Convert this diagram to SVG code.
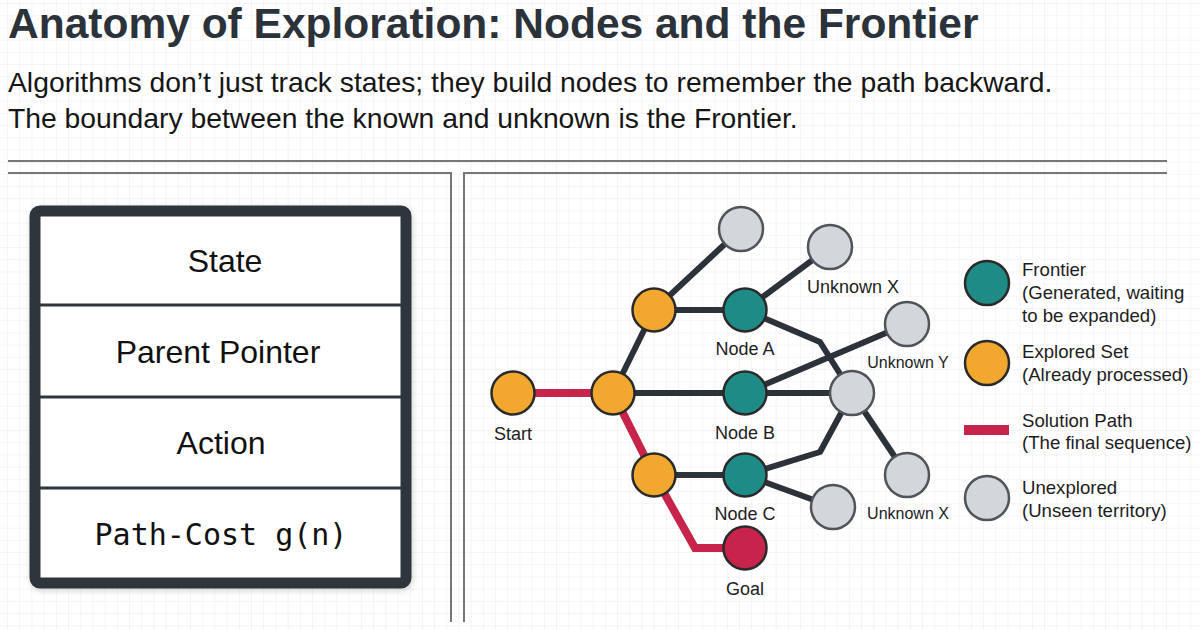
<svg xmlns="http://www.w3.org/2000/svg" width="1200" height="630" viewBox="0 0 1200 630">
  <defs>
    <pattern id="grid" x="8" y="4" width="12.2" height="12.2" patternUnits="userSpaceOnUse">
      <path d="M12.2 0V12.2M0 12.2H12.2" fill="none" stroke="#ebebeb" stroke-width="1"/>
    </pattern>
    <filter id="shadow" x="-10%" y="-10%" width="120%" height="120%">
      <feDropShadow dx="1" dy="2" stdDeviation="3" flood-color="#000" flood-opacity="0.18"/>
    </filter>
  </defs>
  <style>
    text { font-family: "Liberation Sans", Arial, sans-serif; fill: #1d1d1d; }
    .title { font-size: 42.5px; font-weight: bold; fill: #2b323a; }
    .sub { font-size: 28.3px; fill: #161616; }
    .panel { fill: none; stroke: #777777; stroke-width: 2; }
    .field { font-size: 32px; text-anchor: middle; fill: #111; }
    .mono { font-family: "DejaVu Sans Mono", "Liberation Mono", monospace; font-size: 30px; }
    .divider { stroke: #2e363d; stroke-width: 3; }
    .edge { fill: none; stroke: #2b3239; stroke-width: 6; stroke-linejoin: round; }
    .sol { fill: none; stroke: #c8234a; stroke-width: 8; stroke-linejoin: miter; }
    .explored { fill: #f2a82f; stroke: #2a2a2a; stroke-width: 2.5; }
    .frontier { fill: #1f8b86; stroke: #2a2a2a; stroke-width: 2.5; }
    .unexplored { fill: #d3d6da; stroke: #4e5458; stroke-width: 2.5; }
    .goal { fill: #c8234a; stroke: #2a2a2a; stroke-width: 2.5; }
    .lbl { font-size: 18px; text-anchor: middle; }
    .lbls { font-size: 16px; text-anchor: middle; }
    .leg { font-size: 18.6px; }
  </style>

  <rect width="1200" height="630" fill="#ffffff"/>
  <rect width="1200" height="630" fill="url(#grid)"/>

  <text class="title" x="8" y="38">Anatomy of Exploration: Nodes and the Frontier</text>
  <text class="sub" x="8" y="92">Algorithms don’t just track states; they build nodes to remember the path backward.</text>
  <text class="sub" x="8" y="128">The boundary between the known and unknown is the Frontier.</text>

  <line class="panel" x1="8" y1="161" x2="1167" y2="161"/>
  <path class="panel" d="M8 173H451V622"/>
  <path class="panel" d="M1167 173H464V622"/>

  <g id="node-struct">
    <rect x="35" y="211" width="371" height="372" rx="5" fill="#ffffff" stroke="#2e363d" stroke-width="11" filter="url(#shadow)"/>
    <line class="divider" x1="40" y1="305" x2="401" y2="305"/>
    <line class="divider" x1="40" y1="397" x2="401" y2="397"/>
    <line class="divider" x1="40" y1="488" x2="401" y2="488"/>
    <text class="field" x="225" y="272">State</text>
    <text class="field" x="218" y="363">Parent Pointer</text>
    <text class="field" x="221" y="454">Action</text>
    <text class="field mono" x="221" y="545">Path-Cost g(n)</text>
  </g>

  <g id="connectors">
    <line class="edge" x1="613" y1="393" x2="654" y2="310"/>
    <line class="edge" x1="654" y1="310" x2="741" y2="229"/>
    <line class="edge" x1="654" y1="310" x2="745" y2="310"/>
    <line class="edge" x1="745" y1="310" x2="830" y2="247"/>
    <polyline class="edge" points="745,310 820,342 852,393"/>
    <line class="edge" x1="613" y1="393" x2="852" y2="393"/>
    <line class="edge" x1="745" y1="393" x2="907" y2="324"/>
    <line class="edge" x1="654" y1="475" x2="745" y2="475"/>
    <polyline class="edge" points="745,475 820,452 852,393"/>
    <line class="edge" x1="745" y1="475" x2="833" y2="507"/>
    <line class="edge" x1="852" y1="393" x2="907" y2="475"/>
    <line class="sol" x1="513" y1="393" x2="613" y2="393"/>
    <polyline class="sol" points="613,393 654,475 695,548 745,548"/>
  </g>

  <g id="start"><circle class="explored" cx="513" cy="393" r="21.5"/><text class="lbl" x="513" y="440">Start</text></g>
  <g id="explored-mid"><circle class="explored" cx="613" cy="393" r="21.5"/></g>
  <g id="explored-top"><circle class="explored" cx="654" cy="310" r="21.5"/></g>
  <g id="explored-bottom"><circle class="explored" cx="654" cy="475" r="21.5"/></g>
  <g id="node-a"><circle class="frontier" cx="745" cy="310" r="21.5"/><text class="lbl" x="745" y="355">Node A</text></g>
  <g id="node-b"><circle class="frontier" cx="745" cy="393" r="21.5"/><text class="lbl" x="745" y="439">Node B</text></g>
  <g id="node-c"><circle class="frontier" cx="745" cy="475" r="21.5"/><text class="lbl" x="745" y="520">Node C</text></g>
  <g id="goal"><circle class="goal" cx="745" cy="548" r="21.5"/><text class="lbl" x="745" y="595">Goal</text></g>
  <g id="unexplored-top"><circle class="unexplored" cx="741" cy="229" r="22"/></g>
  <g id="unknown-x-top"><circle class="unexplored" cx="830" cy="247" r="22"/><text class="lbl" x="853" y="293">Unknown X</text></g>
  <g id="unknown-y"><circle class="unexplored" cx="907" cy="324" r="22"/><text class="lbls" x="908" y="368">Unknown Y</text></g>
  <g id="unexplored-center"><circle class="unexplored" cx="852" cy="393" r="22"/></g>
  <g id="unknown-x-bottom"><circle class="unexplored" cx="907" cy="475" r="22"/><text class="lbls" x="908" y="519">Unknown X</text></g>
  <g id="unexplored-bottom"><circle class="unexplored" cx="833" cy="507" r="22"/></g>

  <g id="legend-frontier">
    <circle class="frontier" cx="987" cy="283" r="22"/>
    <text class="leg" x="1022" y="276">Frontier</text>
    <text class="leg" x="1022" y="299">(Generated, waiting</text>
    <text class="leg" x="1022" y="322">to be expanded)</text>
  </g>
  <g id="legend-explored">
    <circle class="explored" cx="987" cy="363" r="22"/>
    <text class="leg" x="1022" y="358">Explored Set</text>
    <text class="leg" x="1022" y="381">(Already processed)</text>
  </g>
  <g id="legend-solution">
    <rect x="964" y="425" width="45" height="10" fill="#c8234a"/>
    <text class="leg" x="1022" y="427">Solution Path</text>
    <text class="leg" x="1022" y="449">(The final sequence)</text>
  </g>
  <g id="legend-unexplored">
    <circle class="unexplored" cx="987" cy="498" r="22"/>
    <text class="leg" x="1022" y="494">Unexplored</text>
    <text class="leg" x="1022" y="517">(Unseen territory)</text>
  </g>
</svg>
